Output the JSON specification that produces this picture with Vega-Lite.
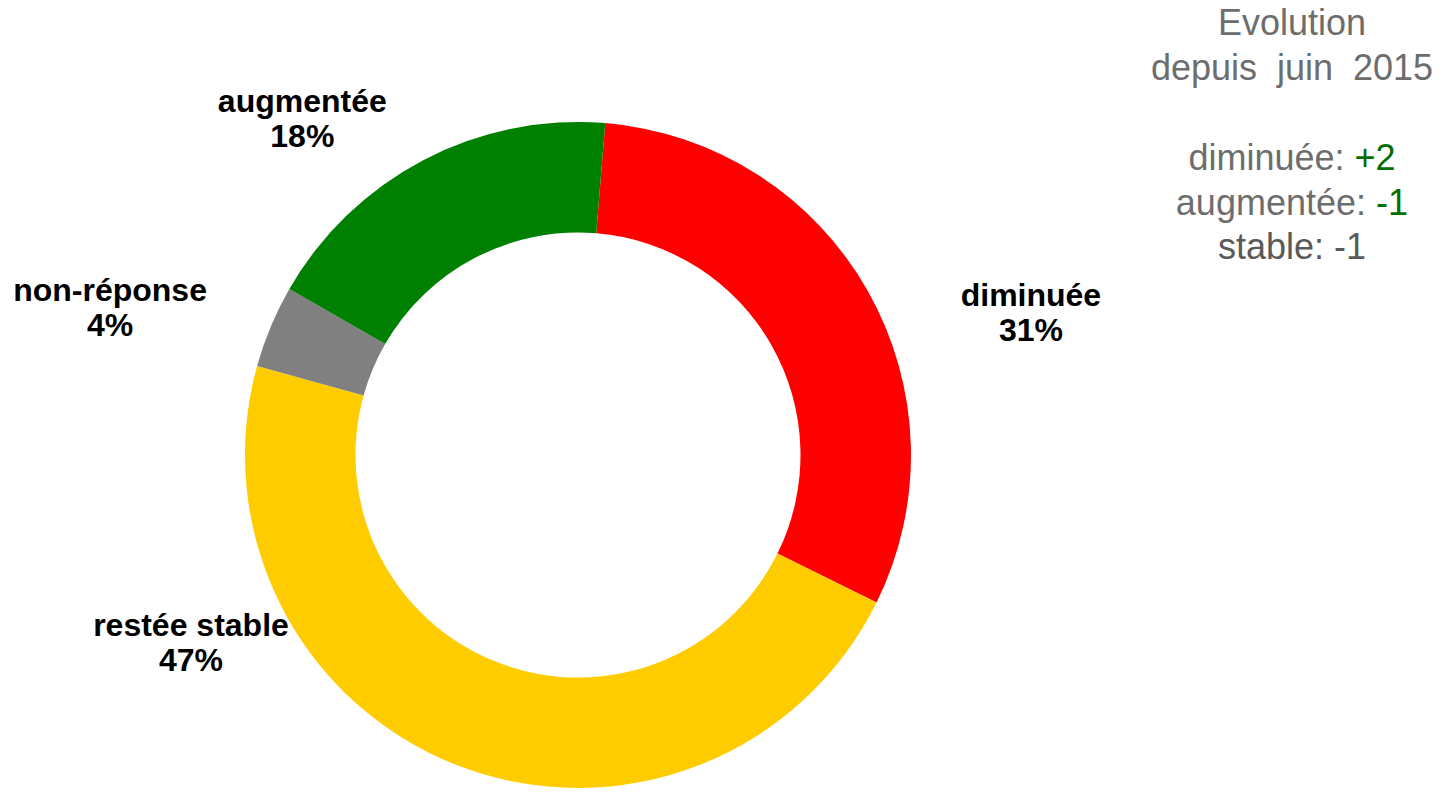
{
  "$schema": "https://vega.github.io/schema/vega-lite/v6.json",
  "autosize": {"type": "pad"},
  "padding": {"left": 0, "top": -19, "right": 0, "bottom": 0},
  "background": "white",
  "bounds": "flush",
  "spacing": 0,
  "config": {
    "view": {"stroke": null},
    "font": "Liberation Sans",
    "locale": {"number": {"decimal": ",", "thousands": "\u00a0", "grouping": [3], "currency": ["", "\u00a0€"], "minus": "-"}}
  },
  "hconcat": [
    {
      "width": 1156,
      "height": 678,
      "data": {"values": [
        {"categorie": "diminuée", "pct": 31, "ordre": 1},
        {"categorie": "restée stable", "pct": 47, "ordre": 2},
        {"categorie": "non-réponse", "pct": 4, "ordre": 3},
        {"categorie": "augmentée", "pct": 18, "ordre": 4}
      ]},
      "transform": [{"calculate": "datum.categorie + '\\n' + datum.pct + '%'", "as": "etiquette"}],
      "encoding": {
        "theta": {"field": "pct", "type": "quantitative", "stack": true, "scale": {"range": [0.082, 6.3652]}},
        "order": {"field": "ordre", "type": "quantitative", "sort": "ascending"}
      },
      "layer": [
        {
          "mark": {"type": "arc", "innerRadius": 222.5, "outerRadius": 333},
          "encoding": {
            "color": {"field": "categorie", "type": "nominal", "legend": null,
              "scale": {"domain": ["diminuée", "restée stable", "non-réponse", "augmentée"], "range": ["#ff0000", "#ffcc00", "#808080", "#008000"]}}
          }
        },
        {
          "mark": {"type": "text", "radius": 479.9, "thetaOffset": 0.178, "fontSize": 32, "fontWeight": "bold", "lineBreak": "\n", "lineHeight": 35, "color": "#000000", "align": "center", "baseline": "middle"},
          "encoding": {"text": {"condition": {"test": "datum.categorie === 'diminuée'", "field": "etiquette", "type": "nominal"}, "value": ""}}
        },
        {
          "mark": {"type": "text", "radius": 423.3, "thetaOffset": 0.789, "fontSize": 32, "fontWeight": "bold", "lineBreak": "\n", "lineHeight": 35, "color": "#000000", "align": "center", "baseline": "middle"},
          "encoding": {"text": {"condition": {"test": "datum.categorie === 'restée stable'", "field": "etiquette", "type": "nominal"}, "value": ""}}
        },
        {
          "mark": {"type": "text", "radius": 495.7, "thetaOffset": -0.060, "fontSize": 32, "fontWeight": "bold", "lineBreak": "\n", "lineHeight": 35, "color": "#000000", "align": "center", "baseline": "middle"},
          "encoding": {"text": {"condition": {"test": "datum.categorie === 'non-réponse'", "field": "etiquette", "type": "nominal"}, "value": ""}}
        },
        {
          "mark": {"type": "text", "radius": 448.2, "thetaOffset": -0.179, "fontSize": 32, "fontWeight": "bold", "lineBreak": "\n", "lineHeight": 35, "color": "#000000", "align": "center", "baseline": "middle"},
          "encoding": {"text": {"condition": {"test": "datum.categorie === 'augmentée'", "field": "etiquette", "type": "nominal"}, "value": ""}}
        }
      ]
    },
    {
      "width": 272,
      "height": 89,
      "title": {
        "text": ["Evolution", "depuis\u00a0 juin\u00a0 2015"],
        "fontSize": 36,
        "fontWeight": "normal",
        "font": "Liberation Sans",
        "color": "#6d6d6d",
        "lineHeight": 45,
        "anchor": "middle",
        "frame": "group",
        "offset": 28
      },
      "data": {"values": [
        {"poste": "diminuée", "variation": 2},
        {"poste": "augmentée", "variation": -1},
        {"poste": "stable", "variation": -1}
      ]},
      "transform": [{"calculate": "datum.poste + ':'", "as": "libelle"}],
      "encoding": {
        "y": {"field": "poste", "type": "nominal", "axis": null,
          "scale": {"type": "point", "domain": ["diminuée", "augmentée", "stable"], "padding": 0}}
      },
      "layer": [
        {
          "transform": [{"filter": "datum.poste === 'diminuée'"}],
          "layer": [
            {"mark": {"type": "text", "align": "right", "baseline": "alphabetic", "fontSize": 36, "color": "#6d6d6d", "dx": 52.5, "dy": 54},
             "encoding": {"text": {"field": "libelle", "type": "nominal"}}},
            {"mark": {"type": "text", "align": "left", "baseline": "alphabetic", "fontSize": 36, "color": "#006e00", "dx": 62.5, "dy": 54},
             "encoding": {"text": {"field": "variation", "type": "quantitative", "format": "+d"}}}
          ]
        },
        {
          "transform": [{"filter": "datum.poste === 'augmentée'"}],
          "layer": [
            {"mark": {"type": "text", "align": "right", "baseline": "alphabetic", "fontSize": 36, "color": "#6d6d6d", "dx": 74, "dy": 54},
             "encoding": {"text": {"field": "libelle", "type": "nominal"}}},
            {"mark": {"type": "text", "align": "left", "baseline": "alphabetic", "fontSize": 36, "color": "#006e00", "dx": 84, "dy": 54},
             "encoding": {"text": {"field": "variation", "type": "quantitative", "format": "+d"}}}
          ]
        },
        {
          "transform": [{"filter": "datum.poste === 'stable'"}],
          "layer": [
            {"mark": {"type": "text", "align": "right", "baseline": "alphabetic", "fontSize": 36, "color": "#5a5a5a", "dx": 32, "dy": 54},
             "encoding": {"text": {"field": "libelle", "type": "nominal"}}},
            {"mark": {"type": "text", "align": "left", "baseline": "alphabetic", "fontSize": 36, "color": "#5a5a5a", "dx": 42, "dy": 54},
             "encoding": {"text": {"field": "variation", "type": "quantitative", "format": "+d"}}}
          ]
        }
      ]
    }
  ]
}
